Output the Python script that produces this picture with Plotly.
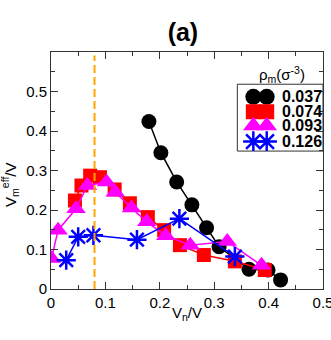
import plotly.graph_objects as go

# Data (V_n/V vs V_m^eff/V)
x_037 = [0.180, 0.202, 0.231, 0.259, 0.286, 0.309, 0.364, 0.399, 0.422]
y_037 = [0.424, 0.345, 0.271, 0.213, 0.155, 0.107, 0.050, 0.048, 0.023]

x_074 = [0.044, 0.056, 0.072, 0.090, 0.117, 0.145, 0.178, 0.208, 0.237, 0.281, 0.338, 0.393]
y_074 = [0.224, 0.262, 0.287, 0.283, 0.252, 0.217, 0.182, 0.149, 0.111, 0.086, 0.070, 0.048]

x_093 = [0.001, 0.013, 0.046, 0.067, 0.102, 0.118, 0.148, 0.176, 0.211, 0.256, 0.324, 0.387]
y_093 = [0.077, 0.149, 0.203, 0.262, 0.271, 0.245, 0.205, 0.170, 0.135, 0.111, 0.120, 0.060]

x_126 = [0.028, 0.050, 0.078, 0.158, 0.236, 0.338]
y_126 = [0.073, 0.132, 0.136, 0.125, 0.178, 0.082]

labels = ["0.037", "0.074", "0.093", "0.126"]
x_line = 0.08
tick_vals = [0, 0.1, 0.2, 0.3, 0.4, 0.5]
tick_text = ["0", "0.1", "0.2", "0.3", "0.4", "0.5"]

font = "Liberation Sans, Arial, sans-serif"
colors = ["black", "red", "magenta", "blue"]
symbols = ["circle", "square", "triangle-up", "asterisk-open"]
sizes = [15, 14, 17, 16]

fig = go.Figure()

xs_all = [x_037, x_074, x_093, x_126]
ys_all = [y_037, y_074, y_093, y_126]
for xs, ys, name, col, sym, sz in zip(xs_all, ys_all, labels, colors, symbols, sizes):
    fig.add_trace(go.Scatter(
        x=xs, y=ys, name=name, mode="lines+markers",
        line=dict(color=col, width=1.5),
        marker=dict(symbol=sym, size=sz, color=col,
                    line=dict(color=col, width=2.5 if sym.startswith("asterisk") else 0)),
        showlegend=False,
    ))

# orange dashed guide line
fig.add_shape(type="line", xref="x", yref="paper", x0=x_line, x1=x_line, y0=0, y1=0.985,
              line=dict(color="orange", width=2, dash="8px,4px"))

# legend drawn by hand (xmgrace style: two markers per entry) on a small hidden axis pair
box = dict(x0=0.685, x1=1.0, y0=0.582, y1=0.864)
fig.add_shape(type="rect", xref="paper", yref="paper", layer="below",
              line=dict(color="#333", width=1), fillcolor="white", **box)
row_y = [0.812, 0.589, 0.379, 0.142]
for lab, col, sym, sz, ry in zip(labels, colors, symbols, sizes, row_y):
    fig.add_trace(go.Scatter(
        x=[0.187, 0.343], y=[ry, ry], mode="markers", xaxis="x2", yaxis="y2",
        marker=dict(symbol=sym, size=sz + 1, color=col,
                    line=dict(color=col, width=2.5 if sym.startswith("asterisk") else 0)),
        hoverinfo="skip", showlegend=False,
    ))
    fig.add_annotation(xref="x2", yref="y2", x=0.5, y=ry, xanchor="left",
                       yanchor="middle", showarrow=False, text="<b>" + lab + "</b>",
                       font=dict(family=font, size=16, color="black"))

axis_common = dict(
    showline=True, linecolor="#333", linewidth=1, mirror="allticks",
    ticks="inside", ticklen=7, tickcolor="#333",
    minor=dict(ticks="inside", ticklen=4, dtick=0.05, tickcolor="#333"),
    showgrid=False, zeroline=False, automargin=False,
    tickfont=dict(family=font, size=15, color="black"),
)

fig.update_layout(
    width=331, height=340,
    margin=dict(l=51, r=8, t=52, b=51, autoexpand=False),
    paper_bgcolor="white", plot_bgcolor="rgba(0,0,0,0)",
    title=dict(text="<b>(a)</b>", xref="paper", x=0.485, xanchor="center",
               yref="container", y=0.905, yanchor="middle", automargin=False,
               font=dict(family=font, size=25, color="black")),
    xaxis=dict(range=[0, 0.5], tickvals=tick_vals, ticktext=tick_text,
               ticklabeloverflow="allow", **axis_common),
    yaxis=dict(range=[0, 0.6], tickvals=tick_vals, ticktext=tick_text, **axis_common),
    xaxis2=dict(domain=[box["x0"], box["x1"]], range=[0, 1], anchor="y2", visible=False,
                fixedrange=True),
    yaxis2=dict(domain=[box["y0"], box["y1"]], range=[0, 1], anchor="x2", visible=False,
                fixedrange=True),
    showlegend=False,
)

# axis titles as annotations so they sit where the reference puts them
fig.add_annotation(xref="paper", yref="paper", x=0.501, y=-0.105, showarrow=False,
                   xanchor="center", yanchor="middle", text="V<sub>n</sub>/V",
                   font=dict(family=font, size=15, color="black"))
fig.add_annotation(xref="paper", yref="paper", x=-0.15, y=0.44, showarrow=False,
                   xanchor="center", yanchor="middle",
                   textangle=-90, text="V<sub>m</sub><sup>eff</sup>/V",
                   font=dict(family=font, size=15, color="black"))

fig.add_annotation(xref="paper", yref="paper", x=0.849, y=0.903, showarrow=False,
                   xanchor="center", yanchor="middle",
                   text="ρ<sub>m</sub>(σ<sup>-3</sup>)",
                   font=dict(family=font, size=15, color="black"))

fig.write_html("out.html", config={"displayModeBar": False},
               post_script="document.body.style.margin='0';")
